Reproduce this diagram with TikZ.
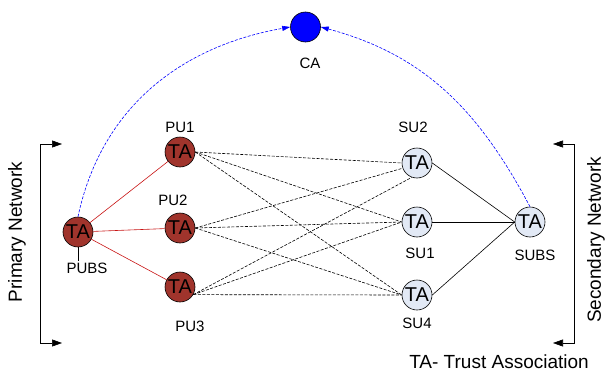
\documentclass[tikz,border=0pt]{standalone}
\usepackage{xcolor}
\usepackage{fontspec}
\setmainfont{Liberation Sans}
\usepackage{tikz}
\usetikzlibrary{arrows.meta}

\definecolor{puBrown}{RGB}{160,52,44}
\definecolor{suBlue}{RGB}{226,233,245}
\definecolor{linkRed}{RGB}{200,20,20}

\tikzset{
	taNode/.style={circle,draw,line width=0.6pt,inner sep=0pt,minimum size=30pt,font=\fontsize{20}{20}\selectfont},
	puNode/.style={taNode,fill=puBrown},
	suNode/.style={taNode,fill=suBlue},
	lbl/.style={inner sep=1pt,font=\fontsize{15}{15}\selectfont},
	bigLbl/.style={inner sep=0pt,font=\fontsize{19}{19}\selectfont},
	peerLink/.style={dash pattern=on 3pt off 1.5pt,line width=0.6pt},
	caLink/.style={blue,dash pattern=on 3pt off 1.5pt,line width=0.6pt,-{Triangle[length=8pt,width=5pt]}},
	netBracket/.style={line width=0.6pt,{Triangle[length=10pt,width=7pt]}-{Triangle[length=10pt,width=7pt]}}
}

\begin{document}
\begin{tikzpicture}[x=1pt,y=1pt]
	\useasboundingbox (0,0) rectangle (605,376);

	\node[circle,draw,line width=0.6pt,fill=blue,minimum size=30pt,inner sep=0pt] (ca) at (305.5,349) {};
	\node[lbl] (caLbl) at (310,313) {CA};

	\node[puNode] (pubs) at (78,144) {TA};
	\node[lbl] (pubsLbl) at (87,108) {PUBS};
	\node[puNode] (pu1) at (180,224) {TA};
	\node[lbl] (pu1Lbl) at (180,249) {PU1};
	\node[puNode] (pu2) at (180,148) {TA};
	\node[lbl] (pu2Lbl) at (173,176) {PU2};
	\node[puNode] (pu3) at (180,89) {TA};
	\node[lbl] (pu3Lbl) at (190,50) {PU3};

	\node[suNode] (su2) at (417,213) {TA};
	\node[lbl] (su2Lbl) at (413,249) {SU2};
	\node[suNode] (su1) at (417,154) {TA};
	\node[lbl] (su1Lbl) at (420,123) {SU1};
	\node[suNode] (su4) at (417,81) {TA};
	\node[lbl] (su4Lbl) at (417,53) {SU4};
	\node[suNode] (subs) at (530,154) {TA};
	\node[lbl] (subsLbl) at (535,121) {SUBS};

	\node[bigLbl,rotate=90] (primLbl) at (17,144) {Primary Network};
	\node[bigLbl,rotate=90] (secLbl) at (596,136) {Secondary Network};
	\node[bigLbl] (legend) at (499,14) {TA- Trust Association};

	\coordinate (lTop) at (62,232);
	\coordinate (lTopC) at (40,232);
	\coordinate (lBotC) at (40,33);
	\coordinate (lBot) at (62,33);
	\coordinate (rTop) at (553,232);
	\coordinate (rTopC) at (574,232);
	\coordinate (rBotC) at (574,33);
	\coordinate (rBot) at (553,33);

\draw[netBracket] (lTop) -- (lTopC) -- (lBotC) -- (lBot);
\draw[netBracket] (rTop) -- (rTopC) -- (rBotC) -- (rBot);

\draw[line width=0.6pt] (pubs.south) -- (pubs.south |- pubsLbl.north);

\draw[caLink] (pubs.north) to[out=78,in=190] (ca.west);
\draw[caLink] (subs.north) to[out=118,in=-15] (ca.east);

\draw[linkRed,line width=0.6pt] (pubs) -- (pu1);
\draw[linkRed,line width=0.6pt] (pubs) -- (pu2);
\draw[linkRed,line width=0.6pt] (pubs) -- (pu3);

\draw[peerLink] (pu1.east) -- (su2.west);
\draw[peerLink] (pu1.east) -- (su1.west);
\draw[peerLink] (pu1.east) -- (su4.west);
\draw[peerLink] (pu2.east) -- (su2.200);
\draw[peerLink] (pu2.east) -- (su1.west);
\draw[peerLink] (pu2.east) -- (su4.west);
\draw[peerLink] (pu3.-30) -- (su2.250);
\draw[peerLink] (pu3.-30) -- (su1.west);
\draw[peerLink] (pu3.-30) -- (su4.west);

\draw[line width=0.6pt] (su2.east) -- (subs.west);
\draw[line width=0.6pt] (su1.east) -- (subs.west);
\draw[line width=0.6pt] (su4.east) -- (subs.west);

\end{tikzpicture}
\end{document}
